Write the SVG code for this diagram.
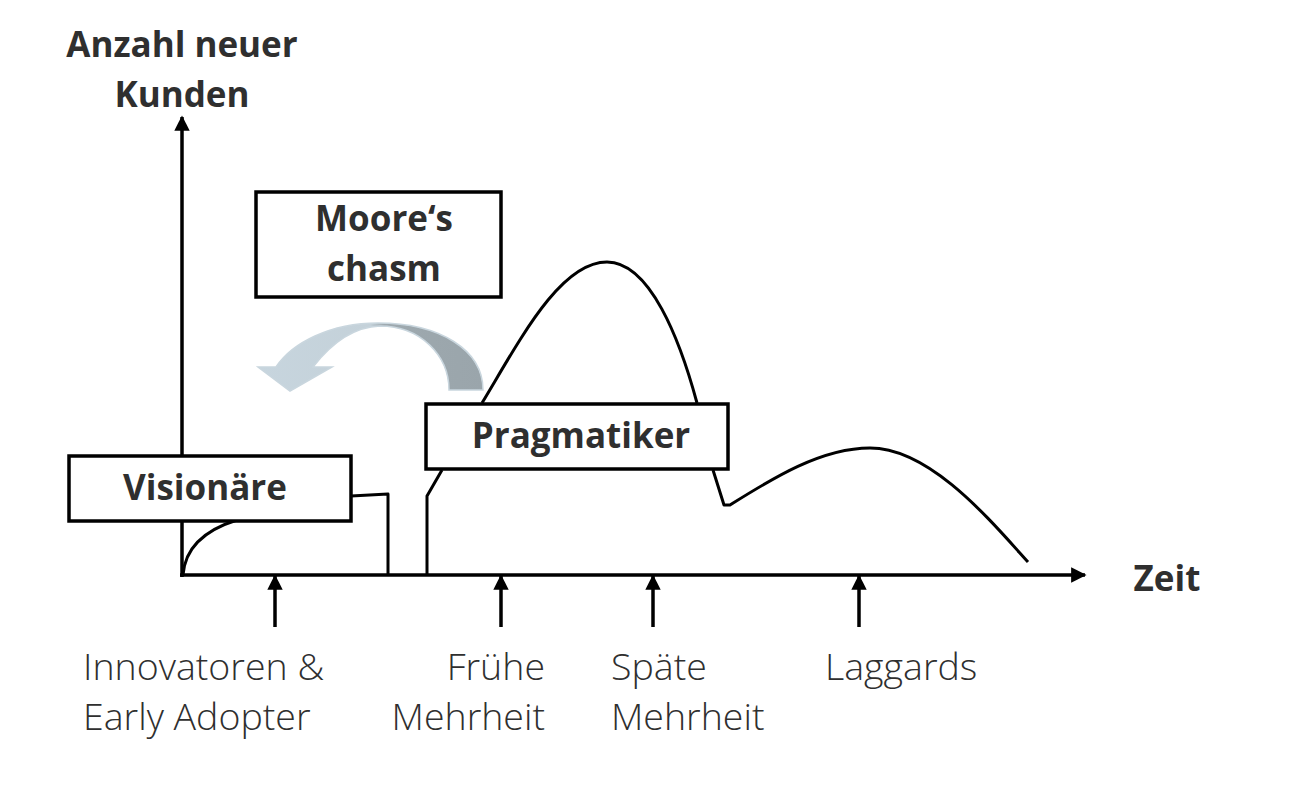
<svg xmlns="http://www.w3.org/2000/svg" width="1300" height="794" viewBox="0 0 1300 794">
<style>
.box{fill:#fff;stroke:#000;stroke-width:3.5}
.bold{font-family:"Open Sans","Liberation Sans",sans-serif;font-weight:700;font-size:35px;fill:#2f2f2f}
.lbl{font-family:"Open Sans","Liberation Sans",sans-serif;font-weight:300;font-size:37.5px;fill:#2f2f2f}
.ax{stroke:#000;stroke-width:3.5;fill:none}
.crv{stroke:#000;stroke-width:3;fill:none;stroke-linejoin:round}
</style>
<defs>
<marker id="ah" viewBox="0 0 10 10" refX="9" refY="5" markerWidth="4.4" markerHeight="4.4" orient="auto" markerUnits="strokeWidth">
<path d="M0,0 L10,5 L0,10 Z" fill="#000"/>
</marker>
<linearGradient id="ag" gradientUnits="userSpaceOnUse" x1="258" y1="0" x2="483" y2="0">
<stop offset="0" stop-color="#c7d5de"/>
<stop offset="0.5" stop-color="#c4d1d9"/>
<stop offset="0.56" stop-color="#9ea9af"/>
<stop offset="1" stop-color="#9aa5ab"/>
</linearGradient>
</defs>
<rect width="1300" height="794" fill="#fff"/>
<g id="axes">
<line class="ax" x1="182" y1="577" x2="182" y2="117" marker-end="url(#ah)"/>
<line class="ax" x1="180" y1="575" x2="1085" y2="575" marker-end="url(#ah)"/>
</g>
<g id="curves">
<path class="crv" d="M183,575 C185,548 205,530 237,520"/>
<path class="crv" d="M351,496 L388,494 L388,575"/>
<path class="crv" d="M427,575 L427,496 L442,470"/>
<path class="crv" d="M482,403 C520,340 560,262 607,262 C650,262 680,340 697,403"/>
<path class="crv" d="M713,470 L724,505 L730,505 C770,480 820,448 870,448 C930,448 990,520 1028,562"/>
</g>
<g id="connectors">
<line class="ax" x1="275" y1="627" x2="275" y2="576" marker-end="url(#ah)"/>
<line class="ax" x1="501" y1="627" x2="501" y2="576" marker-end="url(#ah)"/>
<line class="ax" x1="653" y1="627" x2="653" y2="576" marker-end="url(#ah)"/>
<line class="ax" x1="859" y1="627" x2="859" y2="576" marker-end="url(#ah)"/>
<path id="chasm-arrow" d="M483,390 C483,350 440,323 378,323 C330,323 292,343 276,367 L258,367 L290,391 L332,367 L313,367 C330,345 352,327 380,326 C420,326 449,355 449,390 Z" fill="url(#ag)" stroke="#c9d6de" stroke-width="1.5"/>
</g>
<g id="node-visionaere">
<rect class="box" x="69" y="456" width="282" height="65"/>
<text class="bold" x="205" y="500" text-anchor="middle">Visionäre</text>
</g>
<g id="node-moore">
<rect class="box" x="256" y="192" width="245" height="105"/>
<text class="bold" x="384" y="231" text-anchor="middle">Moore‘s</text>
<text class="bold" x="384" y="281" text-anchor="middle">chasm</text>
</g>
<g id="node-pragmatiker">
<rect class="box" x="426" y="404" width="302" height="65"/>
<text class="bold" x="581" y="448" text-anchor="middle">Pragmatiker</text>
</g>
<g id="axis-labels">
<text class="bold" x="182" y="57" text-anchor="middle">Anzahl neuer</text>
<text class="bold" x="182" y="107" text-anchor="middle">Kunden</text>
<text class="bold" x="1167" y="591" text-anchor="middle">Zeit</text>
</g>
<g id="segment-labels">
<text class="lbl" x="83" y="680">Innovatoren &amp;</text>
<text class="lbl" x="83" y="730">Early Adopter</text>
<text class="lbl" x="545" y="680" text-anchor="end">Frühe</text>
<text class="lbl" x="545" y="730" text-anchor="end">Mehrheit</text>
<text class="lbl" x="611" y="680">Späte</text>
<text class="lbl" x="611" y="730">Mehrheit</text>
<text class="lbl" x="825" y="680">Laggards</text>
</g>
</svg>
